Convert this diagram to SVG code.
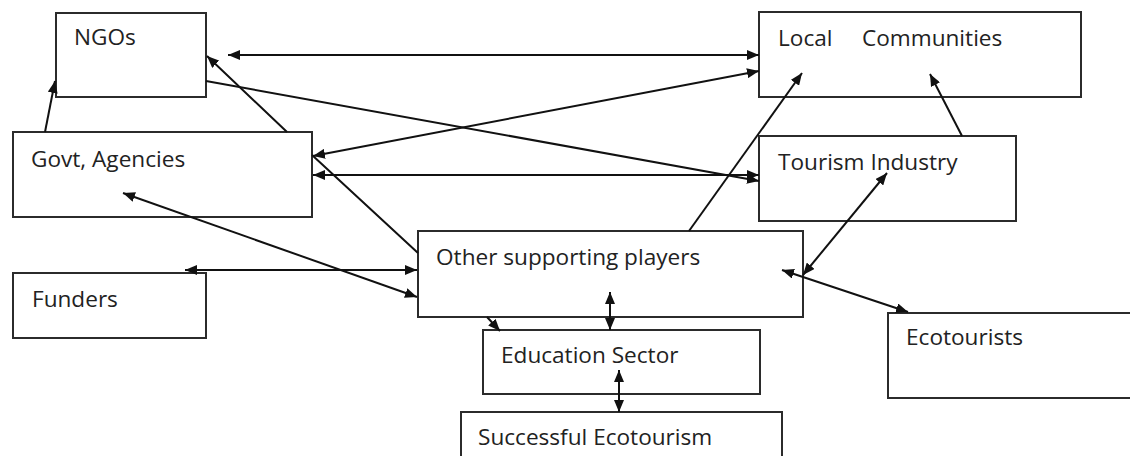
<svg xmlns="http://www.w3.org/2000/svg" width="1130" height="456" viewBox="0 0 1130 456">
<style>
.box{fill:#fff;stroke:#2b2b2b;stroke-width:2}
.lbl{font-family:"Open Sans","Liberation Sans",sans-serif;font-size:22.6px;fill:#222}
.c{fill:none;stroke:#111;stroke-width:2}
.bi{marker-start:url(#ah);marker-end:url(#ah)}
.one{marker-end:url(#ah)}
</style>
<defs>
<marker id="ah" viewBox="0 0 12 10" refX="12" refY="5" markerWidth="12" markerHeight="10" markerUnits="userSpaceOnUse" orient="auto-start-reverse">
<path d="M0,0 L12,5 L0,10 Z" fill="#111"/>
</marker>
</defs>
<g id="nodes">
<g id="ngos"><rect class="box" x="56" y="13" width="150" height="84"/><text class="lbl" x="74" y="45">NGOs</text></g>
<g id="govt"><rect class="box" x="13" y="132" width="299" height="85"/><text class="lbl" x="31" y="167">Govt, Agencies</text></g>
<g id="local"><rect class="box" x="759" y="12" width="322" height="85"/><text class="lbl" x="778" y="46">Local <tspan x="862">Communities</tspan></text></g>
<g id="tourism"><rect class="box" x="759" y="136" width="257" height="85"/><text class="lbl" x="778" y="170">Tourism Industry</text></g>
<g id="funders"><rect class="box" x="13" y="273" width="193" height="65"/><text class="lbl" x="32" y="307">Funders</text></g>
<g id="other"><rect class="box" x="418" y="231" width="385" height="86"/><text class="lbl" x="436" y="265">Other supporting players</text></g>
<g id="education"><rect class="box" x="483" y="330" width="277" height="64"/><text class="lbl" x="501" y="363">Education Sector</text></g>
<g id="successful"><rect class="box" x="461" y="412" width="321" height="70"/><text class="lbl" x="478" y="445">Successful Ecotourism</text></g>
<g id="ecotourists"><rect class="box" x="888" y="313" width="260" height="85"/><text class="lbl" x="906" y="345">Ecotourists</text></g>
</g>
<g id="connectors">
<line class="c bi" x1="228" y1="55" x2="759" y2="55"/>
<line class="c bi" x1="313" y1="156" x2="759" y2="71"/>
<line class="c bi" x1="313" y1="175" x2="759" y2="175"/>
<line class="c one" x1="206" y1="81" x2="759" y2="181"/>
<line class="c one" x1="45" y1="132" x2="55" y2="81"/>
<path class="c bi" d="M207,56 L287,132 M312,155 L418,253 M487,317 L500,331"/>
<line class="c bi" x1="123" y1="193" x2="417" y2="297"/>
<line class="c bi" x1="185" y1="270" x2="417" y2="270"/>
<line class="c one" x1="689" y1="231" x2="802" y2="73"/>
<line class="c one" x1="962" y1="136" x2="930" y2="74"/>
<line class="c bi" x1="803" y1="275" x2="887" y2="173"/>
<line class="c bi" x1="782" y1="270" x2="908" y2="312"/>
<line class="c bi" x1="610" y1="292" x2="610" y2="330"/>
<line class="c bi" x1="619" y1="370" x2="619" y2="412"/>
</g>
</svg>
